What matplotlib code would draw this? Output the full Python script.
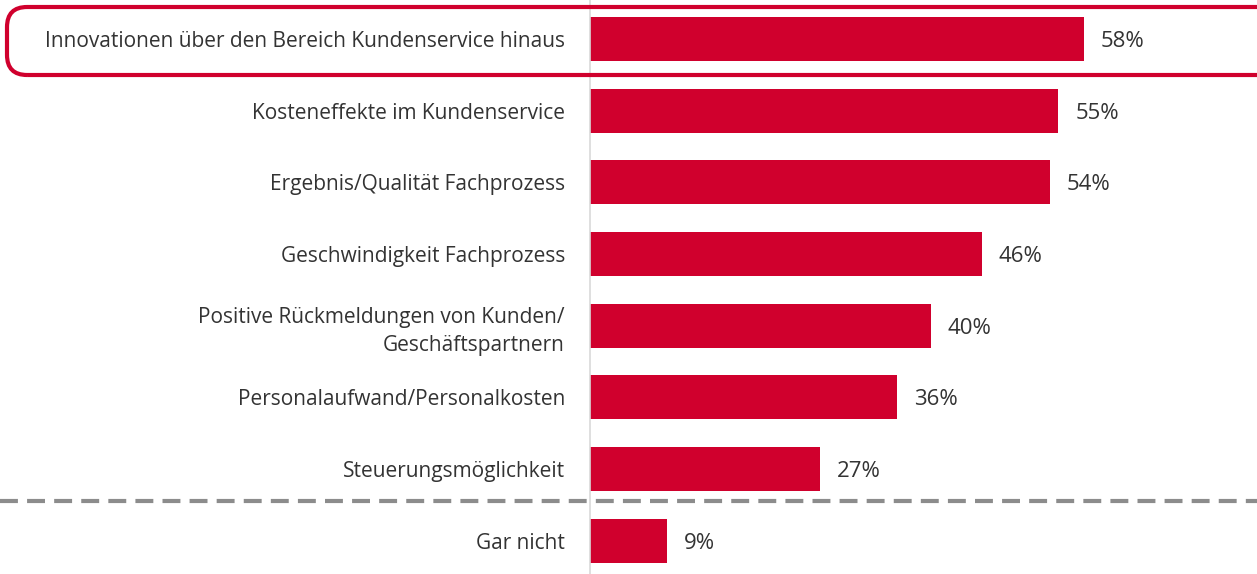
import matplotlib
matplotlib.use("Agg")
import matplotlib.pyplot as plt
from matplotlib.patches import FancyBboxPatch
from matplotlib.lines import Line2D

categories = [
    "Innovationen über den Bereich Kundenservice hinaus",
    "Kosteneffekte im Kundenservice",
    "Ergebnis/Qualität Fachprozess",
    "Geschwindigkeit Fachprozess",
    "Positive Rückmeldungen von Kunden/\nGeschäftspartnern",
    "Personalaufwand/Personalkosten",
    "Steuerungsmöglichkeit",
    "Gar nicht",
]
values = [58, 55, 54, 46, 40, 36, 27, 9]

RED = "#D0002D"
TEXT = "#333333"
W, H = 1257, 574

plt.rcParams['font.family'] = ['Open Sans', 'DejaVu Sans']

fig = plt.figure(figsize=(W / 100, H / 100), dpi=100)
ax = fig.add_axes([590 / W, 0, (W - 590) / W, 1])

step = 71.7
y = list(range(len(values)))
ax.barh(y, values, height=44 / step, color=RED, edgecolor="none")

for yi, v in zip(y, values):
    ax.text(v + 17 / 8.517, yi + 2.5 / step, f"{v}%", va="center", ha="left",
            fontsize=16, color=TEXT)

ax.set_xlim(0, (W - 590) / 8.517)
ax.set_ylim((H - 39) / step, -39 / step)
ax.set_yticks(y)
ax.set_yticklabels(categories, fontsize=15, color=TEXT, linespacing=1.45)
ax.tick_params(axis="y", length=0, pad=18)
ax.set_xticks([])
for s in ["top", "right", "bottom"]:
    ax.spines[s].set_visible(False)
ax.spines["left"].set_color("#D9D9D9")
ax.spines["left"].set_linewidth(1.2)

# dashed separator before "Gar nicht"
fig.add_artist(Line2D([0, 1], [1 - 501 / H, 1 - 501 / H], transform=fig.transFigure,
                      color="#8C8C8C", linewidth=3, dashes=(4.3, 2.2)))

# highlight box around the top row
box = FancyBboxPatch((7 / W, 1 - 75 / H), 1300 / W, 68 / H,
                     boxstyle="round,pad=0,rounding_size=0.016",
                     transform=fig.transFigure, facecolor="none",
                     edgecolor=RED, linewidth=3, clip_on=False,
                     mutation_aspect=W / H)
fig.add_artist(box)

fig.savefig("out.png", dpi=100)
